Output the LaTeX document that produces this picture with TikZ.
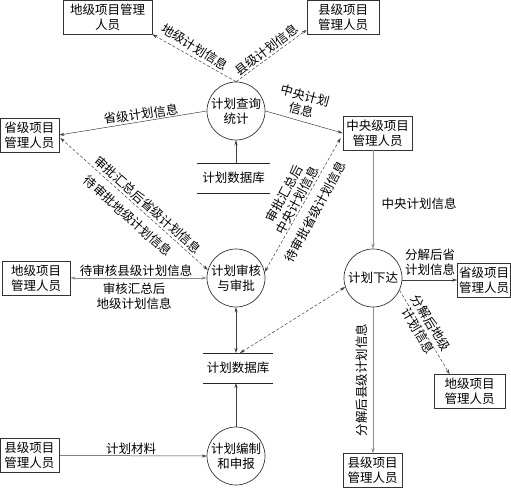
\documentclass[tikz,border=0pt]{standalone}
\usepackage{fontspec}
\setmainfont{Noto Sans CJK SC}
\usetikzlibrary{arrows.meta,calc}
\begin{document}
\begin{tikzpicture}[x=1pt,y=-1pt,
  font=\fontsize{12.5}{15}\selectfont,
  box/.style={draw=black!80, line width=0.8pt, align=center, inner sep=0pt, minimum height=34pt},
  proc/.style={draw=black!80, line width=0.7pt, circle, minimum size=58pt, inner sep=0pt, align=center},
  tip/.tip={Stealth[length=5pt,width=3.2pt]},
  flow/.style={draw=black!75, line width=0.5pt, -tip},
  flow2/.style={draw=black!75, line width=0.5pt, tip-tip},
  gflow/.style={draw=black!45, line width=0.8pt, -tip},
  gflow2/.style={draw=black!45, line width=0.8pt, tip-tip},
  dflow/.style={draw=black!75, line width=0.5pt, dash pattern=on 3pt off 2pt, -tip},
  dflow2/.style={draw=black!75, line width=0.5pt, dash pattern=on 3pt off 2pt, tip-tip},
  lab/.style={inner sep=0pt, align=center},
  dbline/.style={draw=black!85, line width=0.8pt}
]
\useasboundingbox[fill=white] (0,0) rectangle (511,488);

% boxes
\node[box, minimum width=89pt] (bDiTop) at (107.5,17) {地级项目管理\\人员};
\node[box, minimum width=72pt] (bXianTop) at (343,17.5) {县级项目\\管理人员};
\node[box, minimum width=59pt] (bShengL) at (29.5,135) {省级项目\\管理人员};
\node[box, minimum width=69pt] (bZhong) at (377.5,133) {中央级项目\\管理人员};
\node[box, minimum width=68pt] (bDiL) at (36,278) {地级项目\\管理人员};
\node[box, minimum width=53pt] (bShengR) at (484,280) {省级项目\\管理人员};
\node[box, minimum width=71pt] (bDiR) at (469.5,391.5) {地级项目\\管理人员};
\node[box, minimum width=59pt] (bXianL) at (29.5,455.5) {县级项目\\管理人员};
\node[box, minimum width=59pt] (bXianB) at (372.5,470.5) {县级项目\\管理人员};

% processes
\node[proc] (c1) at (236,111) {计划查询\\统计};
\node[proc] (c2) at (236,278) {计划审核\\与审批};
\node[proc] (c3) at (373,278) {计划下达};
\node[proc] (c4) at (236,456) {计划编制\\和申报};

% data stores
\coordinate (db1t) at (236,163);
\coordinate (db2t) at (236,353);
\coordinate (db2b) at (236,383);
\coordinate (db2tr) at (240,353);
\draw[dbline] (197,163) -- (270,163);
\draw[dbline] (197,193) -- (270,193);
\node[lab] (db1) at (233.5,178) {计划数据库};
\draw[dbline] (203,353) -- (273,353);
\draw[dbline] (203,383) -- (273,383);
\node[lab] (db2) at (238,368) {计划数据库};

% connectors
\draw[dflow] (c1.north) -- (bDiTop.south east);
\draw[dflow] (c1.north) -- ($(bXianTop.south west)+(0,-5)$);
\draw[flow] (c1.west) -- (bShengL.east);
\draw[flow] (c1.east) -- (bZhong.west);
\draw[flow] (db1t) -- (c1.south);
\draw[dflow2] (c2.164) -- ($(bShengL.east)+(1,3)$);
\draw[dflow2] (c2.12) -- ($(bZhong.west)+(-2,5)$);
\draw[gflow2] (bDiL.east) -- (c2.west);
\draw[flow2] (c2.south) -- (db2t);
\draw[dflow2] (c3.198) -- (db2tr);
\draw[gflow] (c3.north |- bZhong.south) -- (c3.north);
\draw[flow] (c3.east |- bShengR.west) -- (bShengR.west);
\draw[dflow] (c3.-25) -- ($(bDiR.north west)+(16,0)$);
\draw[gflow] (c3.south) -- (c3.south |- bXianB.north);
\draw[flow] (c4.north) -- (db2b);
\draw[flow] (bXianL.east) -- (c4.west);

% labels
\node[lab, rotate=-32] (l1) at (195,47) {地级计划信息};
\node[lab, rotate=37] (l2) at (267,50) {县级计划信息};
\node[lab, rotate=7.7] (l3) at (141,114) {省级计划信息};
\node[lab, rotate=-15] (l4) at (303,103) {中央计划\\信息};
\node[lab, rotate=-42] (l5) at (148,205) {审批汇总后省级计划信息};
\node[lab, rotate=-42] (l6) at (128,216) {待审批地级计划信息};
\node[lab, rotate=61.6] (l7) at (290.5,197) {审批汇总后\\中央计划信息};
\node[lab, rotate=61.6] (l8) at (315,212) {待审批省级计划信息};
\node[lab] (l9) at (136,271) {待审核县级计划信息};
\node[lab] (l10) at (134,296.5) {审核汇总后\\地级计划信息};
\node[lab] (l11) at (419,204) {中央计划信息};
\node[lab] (l12) at (430,262) {分解后省\\计划信息};
\node[lab, rotate=-59] (l13) at (424.5,327) {分解后地级\\计划信息};
\node[lab, rotate=90] (l14) at (362,380) {分解后县级计划信息};
\node[lab] (l15) at (131,449) {计划材料};
\end{tikzpicture}
\end{document}
